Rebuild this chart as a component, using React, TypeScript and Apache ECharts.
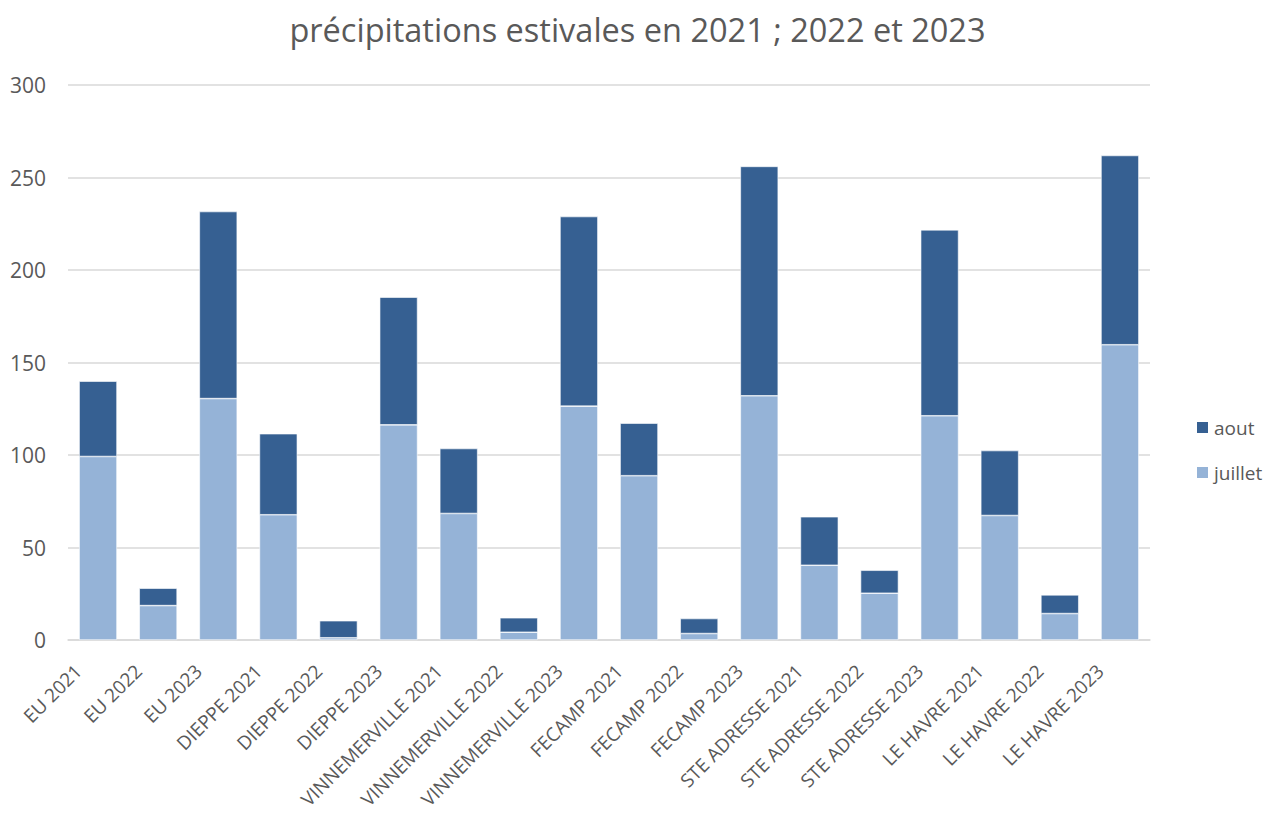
import React, { useEffect, useRef } from "react";
import * as echarts from "echarts";

const categories = [
  "EU 2021", "EU 2022", "EU 2023",
  "DIEPPE 2021", "DIEPPE 2022", "DIEPPE 2023",
  "VINNEMERVILLE 2021", "VINNEMERVILLE 2022", "VINNEMERVILLE 2023",
  "FECAMP 2021", "FECAMP 2022", "FECAMP 2023",
  "STE ADRESSE 2021", "STE ADRESSE 2022", "STE ADRESSE 2023",
  "LE HAVRE 2021", "LE HAVRE 2022", "LE HAVRE 2023",
];

const juillet = [
  99.2, 18.6, 130.5,
  67.7, 1.2, 116.3,
  68.4, 4.2, 126.4,
  88.8, 3.5, 132.0,
  40.4, 25.3, 121.2,
  67.3, 14.3, 159.6,
];

const totals = [
  139.9, 28.0, 231.6,
  111.5, 10.4, 185.3,
  103.5, 12.0, 228.9,
  117.2, 11.6, 256.0,
  66.6, 37.7, 221.7,
  102.4, 24.4, 261.9,
];

const aout = totals.map((t, i) => Math.round((t - juillet[i]) * 10) / 10);

const title = "précipitations estivales en 2021 ; 2022 et 2023";
const FONT = "'Open Sans', sans-serif";

export default function App() {
  const ref = useRef<HTMLDivElement>(null);
  useEffect(() => {
    if (!ref.current) return;
    const chart = echarts.init(ref.current, undefined, { renderer: "svg" });
    chart.setOption({
      animation: false,
      backgroundColor: "#ffffff",
      title: {
        text: title,
        left: "center",
        top: 8,
        textStyle: { fontFamily: FONT, fontSize: 32.5, fontWeight: "normal", color: "#595959" },
      },
      legend: {
        orient: "vertical",
        left: 1190,
        top: 413,
        itemWidth: 13,
        itemHeight: 13,
        itemGap: 26,
        icon: "rect",
        data: ["aout", "juillet"],
        textStyle: { fontFamily: FONT, fontSize: 19, color: "#595959" },
      },
      grid: { left: 68, right: 125, top: 85, bottom: 180, containLabel: false },
      xAxis: {
        type: "category",
        data: categories,
        axisLine: { lineStyle: { color: "#d9d9d9", width: 1.5 } },
        axisTick: { show: false },
        axisLabel: {
          rotate: 45,
          interval: 0,
          margin: 8,
          padding: [0, 28, 0, 0],
          fontFamily: FONT,
          fontSize: 19,
          color: "#595959",
        },
      },
      yAxis: {
        type: "value",
        min: 0,
        max: 300,
        interval: 50,
        axisLine: { show: false },
        axisTick: { show: false },
        splitLine: { lineStyle: { color: "#d9d9d9", width: 1.5 } },
        axisLabel: { fontFamily: FONT, fontSize: 21, color: "#595959", margin: 22 },
      },
      series: [
        {
          name: "juillet",
          type: "bar",
          stack: "total",
          data: juillet,
          barCategoryGap: "37%",
          itemStyle: { color: "#95b3d7", borderColor: "#ffffff", borderWidth: 0.6 },
        },
        {
          name: "aout",
          type: "bar",
          stack: "total",
          data: aout,
          barCategoryGap: "37%",
          itemStyle: { color: "#366092", borderColor: "#ffffff", borderWidth: 0.6 },
        },
      ],
    });
    return () => chart.dispose();
  }, []);
  return (
    <div
      ref={ref}
      style={{ position: "fixed", left: 0, top: 0, width: 1275, height: 820 }}
    />
  );
}
